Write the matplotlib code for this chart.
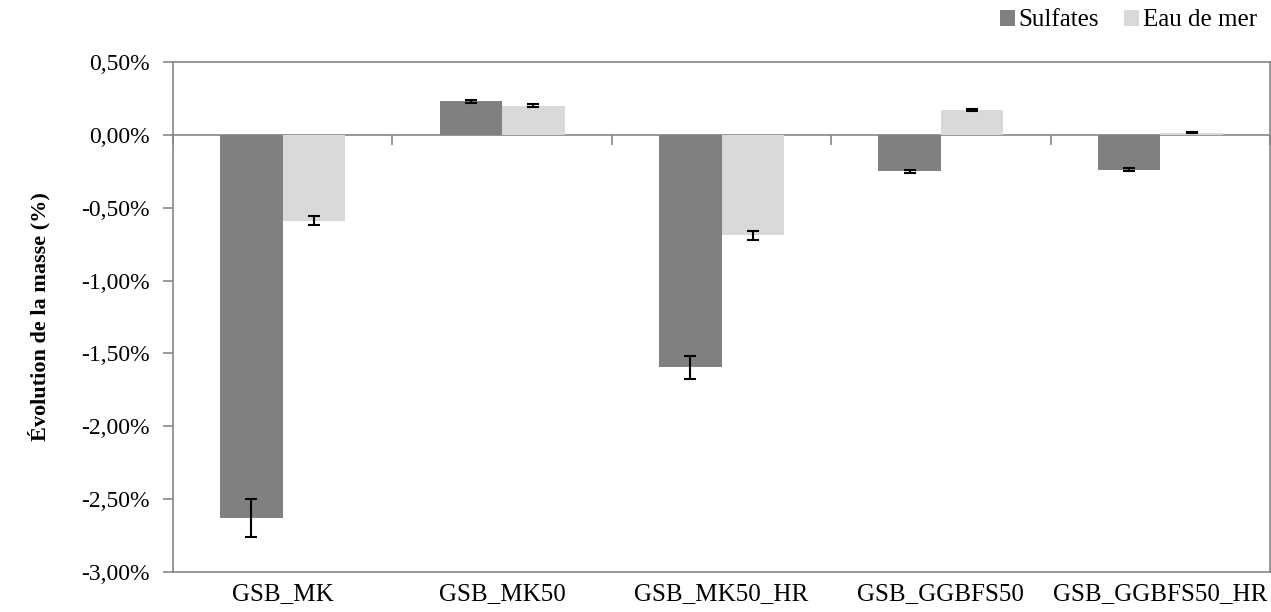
import matplotlib
matplotlib.use("Agg")
import matplotlib.pyplot as plt
import numpy as np
from matplotlib.ticker import FuncFormatter

categories = ["GSB_MK", "GSB_MK50", "GSB_MK50_HR", "GSB_GGBFS50", "GSB_GGBFS50_HR"]
series_names = ["Sulfates", "Eau de mer"]
sulfates = [-2.63, 0.23, -1.595, -0.25, -0.24]
sulfates_err = [0.13, 0.01, 0.08, 0.01, 0.01]
eau_de_mer = [-0.59, 0.20, -0.69, 0.17, 0.015]
eau_de_mer_err = [0.03, 0.01, 0.03, 0.008, 0.003]

plt.rcParams['font.family'] = ['Liberation Serif', 'DejaVu Serif']

fig = plt.figure(figsize=(12.71, 6.12), dpi=100)
ax = fig.add_axes([173/1271, 1-572/612, (1270-173)/1271, (572-62)/612])

x = np.arange(len(categories))
w = 0.285
c1, c2 = "#808080", "#d9d9d9"
ax.bar(x - w/2, sulfates, w, color=c1, label=series_names[0], zorder=2)
ax.bar(x + w/2, eau_de_mer, w, color=c2, label=series_names[1], zorder=2)
ax.errorbar(x - w/2, sulfates, yerr=sulfates_err, fmt='none', ecolor='black',
            elinewidth=1.5, capsize=4.5, capthick=1.5, zorder=3)
ax.errorbar(x + w/2, eau_de_mer, yerr=eau_de_mer_err, fmt='none', ecolor='black',
            elinewidth=1.5, capsize=4.5, capthick=1.5, zorder=3)

ymin, ymax = -3.0, 0.5
ax.set_ylim(ymin, ymax)
ax.set_xlim(-0.5, len(categories) - 0.5)
ax.set_yticks(np.arange(-3.0, 0.51, 0.5))
ax.yaxis.set_major_formatter(FuncFormatter(lambda v, p: f"{v:.2f}%".replace('.', ',')))

gray = "#868686"
for s in ax.spines.values():
    s.set_color(gray)
    s.set_linewidth(1.2)
ax.tick_params(axis='y', direction='out', length=7, width=1.2, color=gray,
               labelsize=17, pad=10)
ax.set_xticks(x)
ax.set_xticklabels(categories)
ax.tick_params(axis='x', length=0, labelsize=18, pad=8)

# zero line with category boundary ticks
ax.axhline(0, color=gray, linewidth=1.2, zorder=1)
zero_frac = (0 - ymin) / (ymax - ymin)
sec = ax.secondary_xaxis(zero_frac)
sec.spines['bottom'].set_visible(False)
sec.spines['top'].set_visible(False)
sec.set_xticks(np.arange(-0.5, len(categories) + 0.5, 1.0))
sec.xaxis.set_ticks_position('bottom')
sec.tick_params(axis='x', direction='out', length=7, width=1.2, color=gray,
                labelbottom=False, labeltop=False)

ax.set_ylabel("Évolution de la masse (%)", fontsize=16, fontweight='bold', labelpad=22)

fig.legend(loc='upper right', bbox_to_anchor=(0.998, 1.003), ncol=2, frameon=False,
           fontsize=18, handlelength=0.6, handleheight=0.6, handletextpad=0.15,
           columnspacing=1.0, borderaxespad=0.05)

fig.savefig("out.png", dpi=100)
